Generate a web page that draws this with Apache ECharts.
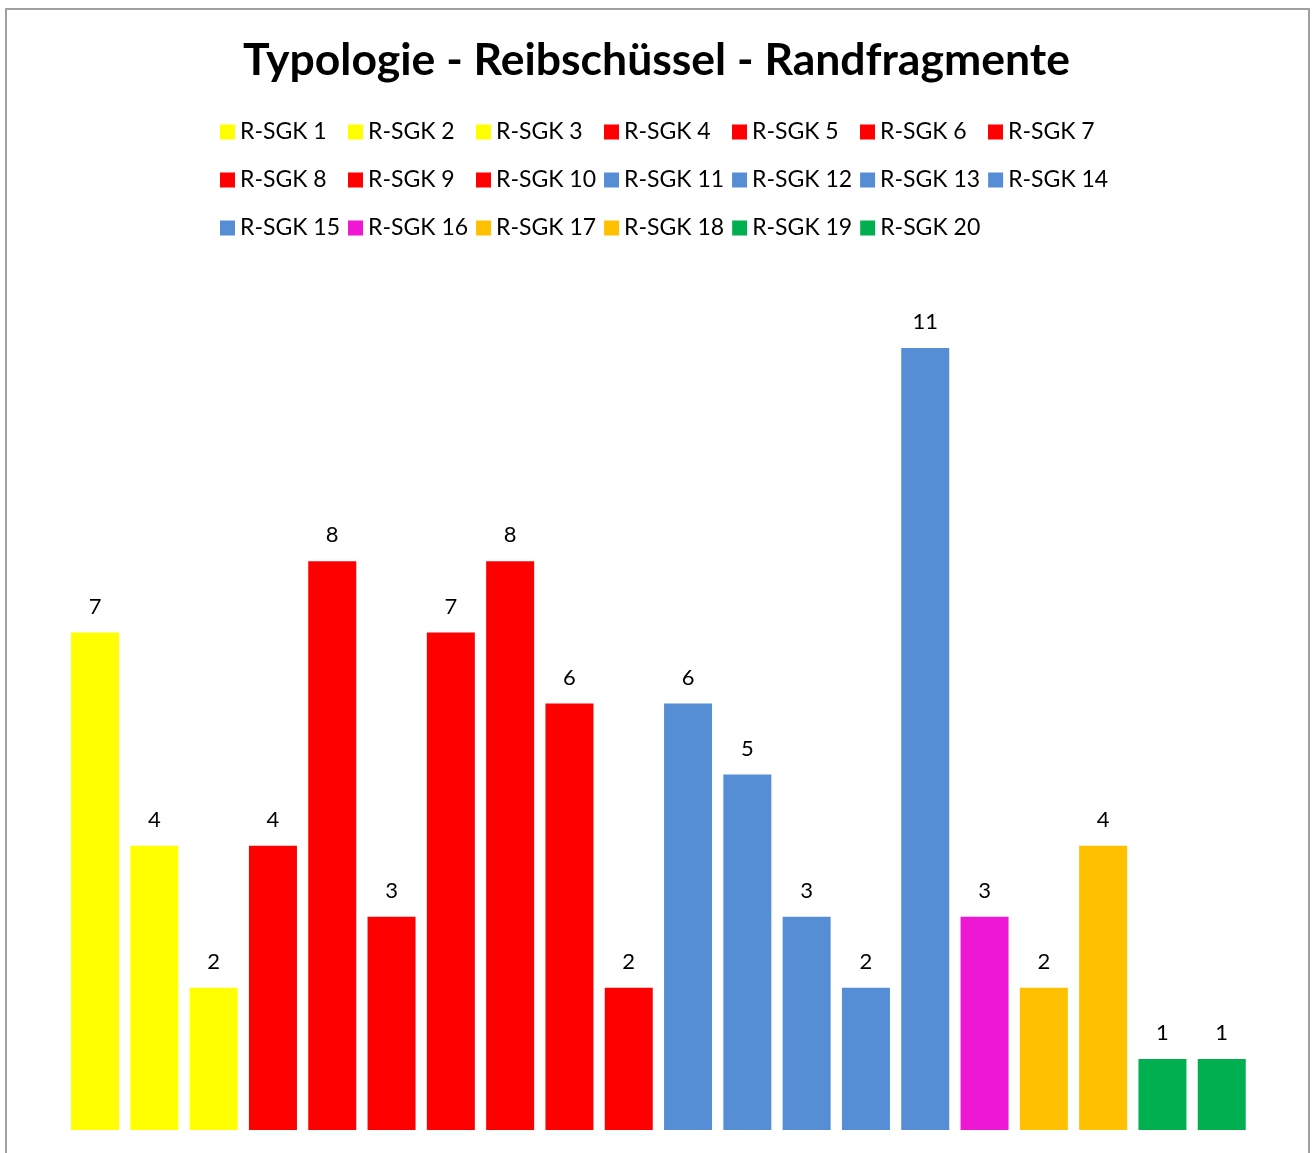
<!DOCTYPE html>
<html>
<head>
<meta charset="utf-8">
<script src="https://cdn.jsdelivr.net/npm/echarts@6/dist/echarts.min.js"></script>
<style>
  html, body { margin: 0; padding: 0; background: #fff; }
  #main { width: 1313px; height: 1153px; }
</style>
</head>
<body>
<div id="main"></div>
<script>
// Reibschüssel Randfragmente, Anzahl je Typ
var categories = ['R-SGK 1', 'R-SGK 2', 'R-SGK 3', 'R-SGK 4', 'R-SGK 5', 'R-SGK 6', 'R-SGK 7',
  'R-SGK 8', 'R-SGK 9', 'R-SGK 10', 'R-SGK 11', 'R-SGK 12', 'R-SGK 13', 'R-SGK 14',
  'R-SGK 15', 'R-SGK 16', 'R-SGK 17', 'R-SGK 18', 'R-SGK 19', 'R-SGK 20'];
var counts = [7, 4, 2, 4, 8, 3, 7, 8, 6, 2, 6, 5, 3, 2, 11, 3, 2, 4, 1, 1];
var colors = ['#FFFF00', '#FFFF00', '#FFFF00',
  '#FF0000', '#FF0000', '#FF0000', '#FF0000', '#FF0000', '#FF0000', '#FF0000',
  '#558ED5', '#558ED5', '#558ED5', '#558ED5', '#558ED5',
  '#EE17D3', '#FFC000', '#FFC000', '#00B050', '#00B050'];

var font = 'Lato, "Open Sans", sans-serif';

var chart = echarts.init(document.getElementById('main'));

var series = [];
for (var i = 0; i < categories.length; i++) {
  var d = [];
  for (var j = 0; j < categories.length; j++) d.push(j === i ? counts[i] : null);
  series.push({
    name: categories[i],
    type: 'bar',
    data: d,
    barWidth: 48,
    barGap: '-100%',
    itemStyle: { color: colors[i] },
    label: {
      show: true,
      position: 'top',
      distance: 15,
      color: '#000',
      fontSize: 22,
      fontFamily: font
    }
  });
}

// legend in 3 rows, 7 per row
function legendRow(names, top) {
  return {
    data: names,
    left: 220,
    top: top,
    padding: 0,
    itemWidth: 15,
    itemHeight: 15,
    itemGap: 8,
    icon: 'rect',
    textStyle: { fontSize: 23, fontFamily: font, color: '#000', width: 100, lineHeight: 24 }
  };
}

var option = {
  backgroundColor: '#fff',
  animation: false,
  title: {
    text: 'Typologie - Reibschüssel - Randfragmente',
    left: 'center',
    top: 33,
    textStyle: { fontSize: 44.5, fontWeight: 'bold', fontFamily: font, color: '#000' }
  },
  legend: [
    legendRow(categories.slice(0, 7), 120),
    legendRow(categories.slice(7, 14), 168),
    legendRow(categories.slice(14), 216)
  ],
  graphic: [{
    type: 'rect',
    shape: { x: 6, y: 9, width: 1303, height: 1170 },
    style: { fill: null, stroke: '#A0A0A0', lineWidth: 2 },
    silent: true
  }],
  grid: { left: 65.4, right: 61.6, top: 277, bottom: 23 },
  xAxis: {
    type: 'category',
    data: categories,
    show: false
  },
  yAxis: {
    type: 'value',
    min: 0,
    max: 12,
    show: false,
    splitLine: { show: false }
  },
  series: series
};

chart.setOption(option);
</script>
</body>
</html>
